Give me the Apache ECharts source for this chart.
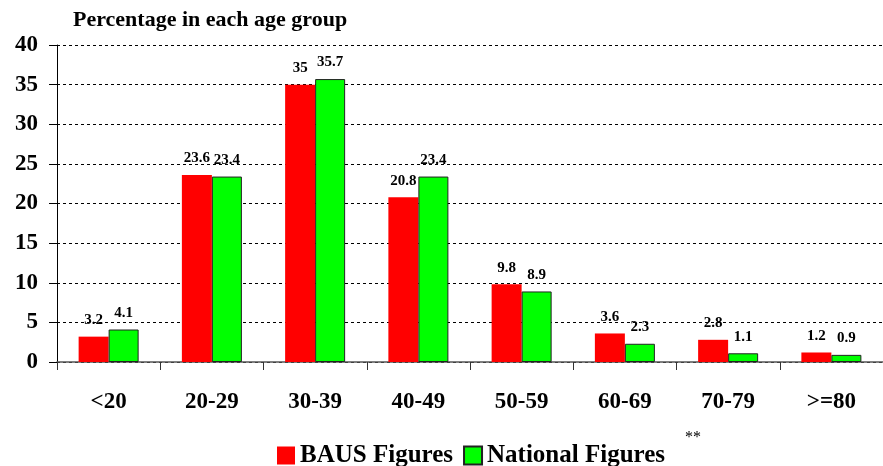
<!DOCTYPE html>
<html>
<head>
<meta charset="utf-8">
<script src="https://cdn.jsdelivr.net/npm/echarts@6/dist/echarts.min.js"></script>
<style>
  html, body { margin: 0; padding: 0; background: #fff; }
  #main { width: 883px; height: 466px; }
</style>
</head>
<body>
<div id="main"></div>
<script>
// data
const ageGroups = ["<20", "20-29", "30-39", "40-49", "50-59", "60-69", "70-79", ">=80"];
const bausFigures = [3.2, 23.6, 35, 20.8, 9.8, 3.6, 2.8, 1.2];
const nationalFigures = [4.1, 23.4, 35.7, 23.4, 8.9, 2.3, 1.1, 0.9];

const font = "'Liberation Serif', 'Times New Roman', serif";
const chart = echarts.init(document.getElementById("main"));

const labelStyle = {
  show: true,
  position: "top",
  distance: 9,
  fontFamily: font,
  fontWeight: "bold",
  fontSize: 15,
  color: "#000",
};

chart.setOption({
  animation: false,
  title: {
    text: "Percentage in each age group",
    left: 68,
    top: 4,
    textStyle: { fontFamily: font, fontWeight: "bold", fontSize: 22, color: "#000" },
  },
  legend: {
    top: 438,
    left: 272,
    icon: "rect",
    itemWidth: 18,
    itemHeight: 18,
    itemGap: 10,
    textStyle: { fontFamily: font, fontWeight: "bold", fontSize: 25, color: "#000" },
    data: ["BAUS Figures", "National Figures"],
  },
  graphic: [
    {
      type: "text",
      left: 685,
      top: 430,
      style: { text: "**", font: "16px " + font, fill: "#000" },
    },
  ],
  grid: { left: 57, top: 45, width: 834, height: 317 },
  xAxis: {
    type: "category",
    data: ageGroups,
    axisLine: { lineStyle: { color: "#555", width: 1.5 } },
    axisTick: { show: true, length: 8, lineStyle: { color: "#333" } },
    axisLabel: {
      margin: 29,
      fontFamily: font,
      fontWeight: "bold",
      fontSize: 23,
      color: "#000",
    },
  },
  yAxis: {
    type: "value",
    min: 0,
    max: 40,
    interval: 5,
    axisLine: { show: true, lineStyle: { color: "#000", width: 1 } },
    axisTick: { show: true, length: 8, lineStyle: { color: "#000" } },
    axisLabel: {
      margin: 19,
      fontFamily: font,
      fontWeight: "bold",
      fontSize: 23,
      color: "#000",
    },
    splitLine: { lineStyle: { color: "#000", type: [3, 3], width: 1 } },
  },
  series: [
    {
      name: "BAUS Figures",
      type: "bar",
      data: bausFigures,
      barWidth: 30,
      barGap: "0%",
      itemStyle: { color: "#ff0000" },
      label: labelStyle,
    },
    {
      name: "National Figures",
      type: "bar",
      data: nationalFigures,
      barWidth: 30,
      itemStyle: { color: "#00ff00", borderColor: "#222", borderWidth: 1 },
      label: labelStyle,
    },
  ],
});
</script>
</body>
</html>
